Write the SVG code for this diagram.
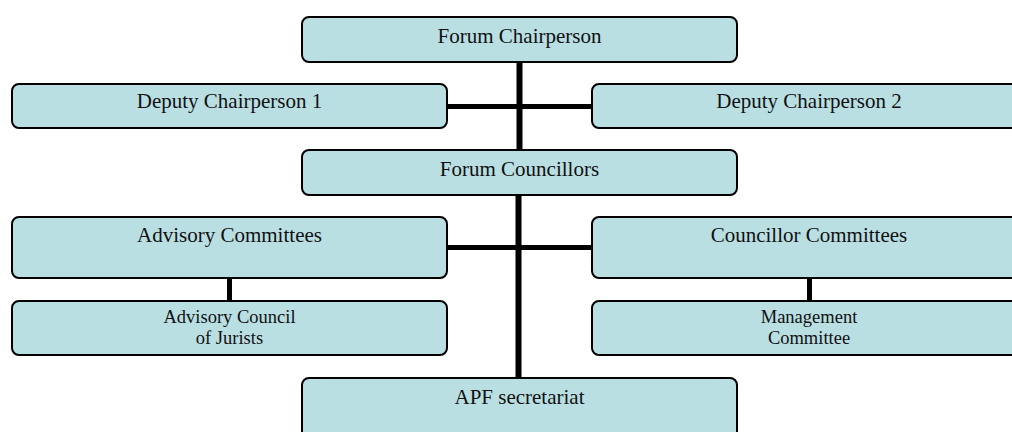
<svg xmlns="http://www.w3.org/2000/svg" width="1012" height="432" viewBox="0 0 1012 432">
<style>
.box{fill:#b9dfe3;stroke:#000;stroke-width:2}
.t{font-family:"Liberation Serif","Times New Roman",serif;font-size:21px;fill:#111;text-anchor:middle}
.s{font-family:"Liberation Serif","Times New Roman",serif;font-size:18.5px;fill:#111;text-anchor:middle}
.c{stroke:#000;fill:none}
</style>
<rect width="1012" height="432" fill="#fff"/>
<g id="connectors">
<line class="c" x1="519.5" y1="62" x2="519.5" y2="150" stroke-width="6"/>
<line class="c" x1="447" y1="106.5" x2="592" y2="106.5" stroke-width="5"/>
<line class="c" x1="518.5" y1="195" x2="518.5" y2="378" stroke-width="6"/>
<line class="c" x1="447" y1="247.5" x2="592" y2="247.5" stroke-width="5"/>
<line class="c" x1="229.5" y1="278" x2="229.5" y2="301" stroke-width="5"/>
<line class="c" x1="809.5" y1="278" x2="809.5" y2="301" stroke-width="5"/>
</g>
<g id="forum-chairperson">
<rect class="box" x="302" y="17" width="435" height="45" rx="7"/>
<text class="t" x="519.5" y="43">Forum Chairperson</text>
</g>
<g id="deputy-1">
<rect class="box" x="12" y="84" width="435" height="44" rx="7"/>
<text class="t" x="229.5" y="108">Deputy Chairperson 1</text>
</g>
<g id="deputy-2">
<rect class="box" x="592" y="84" width="435" height="44" rx="7"/>
<text class="t" x="809" y="108">Deputy Chairperson 2</text>
</g>
<g id="forum-councillors">
<rect class="box" x="302" y="150" width="435" height="45" rx="7"/>
<text class="t" x="519.5" y="176">Forum Councillors</text>
</g>
<g id="advisory-committees">
<rect class="box" x="12" y="217" width="435" height="61" rx="7"/>
<text class="t" x="229.5" y="242">Advisory Committees</text>
</g>
<g id="councillor-committees">
<rect class="box" x="592" y="217" width="435" height="61" rx="7"/>
<text class="t" x="809" y="242">Councillor Committees</text>
</g>
<g id="advisory-council-jurists">
<rect class="box" x="12" y="301" width="435" height="54" rx="7"/>
<text class="s" x="229.5" y="323">Advisory Council</text>
<text class="s" x="229.5" y="344">of Jurists</text>
</g>
<g id="management-committee">
<rect class="box" x="592" y="301" width="435" height="54" rx="7"/>
<text class="s" x="809" y="323">Management</text>
<text class="s" x="809" y="344">Committee</text>
</g>
<g id="apf-secretariat">
<rect class="box" x="302" y="378" width="435" height="61" rx="7"/>
<text class="t" x="519.5" y="404">APF secretariat</text>
</g>
</svg>
